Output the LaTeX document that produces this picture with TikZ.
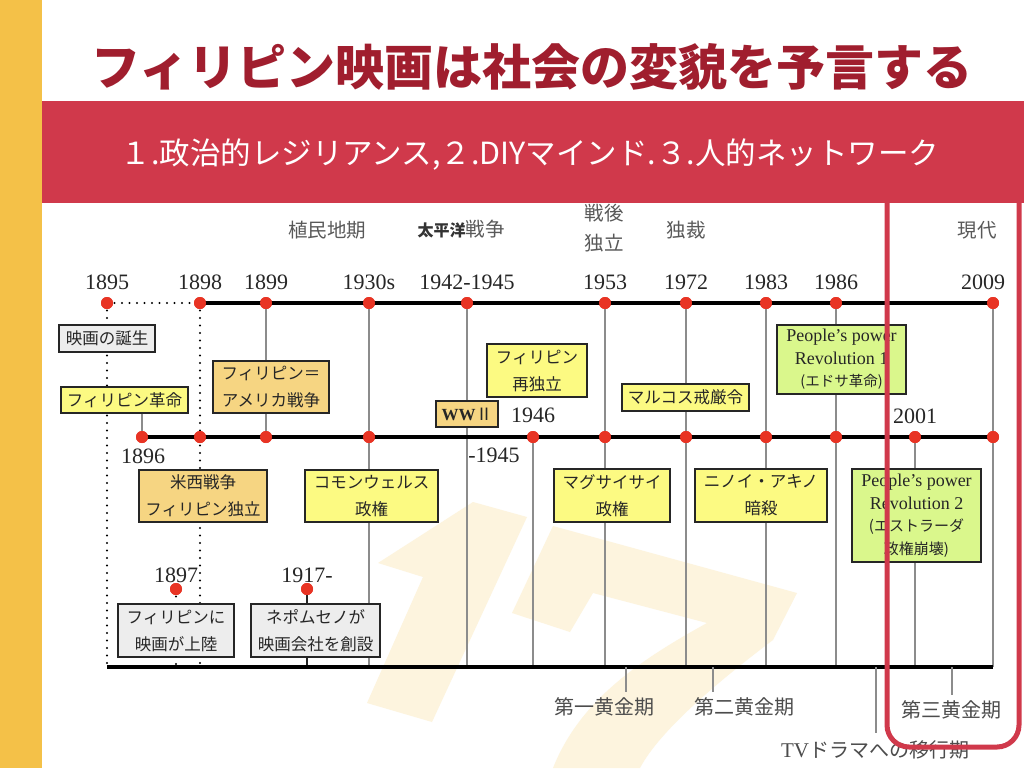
\documentclass[tikz,border=0pt]{standalone}
\usepackage{fontspec}
\setmainfont{Liberation Serif}
\newfontfamily\jp{Noto Sans CJK JP}
\definecolor{stripe}{RGB}{244,193,72}
\definecolor{bannerred}{RGB}{208,57,75}
\definecolor{titlered}{RGB}{160,30,46}
\definecolor{boxyellow}{RGB}{252,250,130}
\definecolor{boxorange}{RGB}{246,213,130}
\definecolor{boxgreen}{RGB}{218,247,140}
\definecolor{boxgray}{RGB}{237,237,237}
\definecolor{dotred}{RGB}{232,52,36}
\definecolor{cream}{RGB}{253,244,222}
\tikzset{
  yr/.style={inner sep=0pt, text=black!85, font=\fontsize{22}{22}\selectfont},
  per/.style={inner sep=0pt, text=black!65, align=center, font=\jp\fontsize{19.5}{30}\selectfont},
  bx/.style={draw=black!85, line width=1.3pt, inner sep=0pt, align=center, text=black!85,
    font=\jp\fontsize{16.5}{27}\selectfont},
  ybox/.style={bx, fill=boxyellow},
  obox/.style={bx, fill=boxorange},
  gbox/.style={bx, fill=boxgray},
  grbox/.style={bx, fill=boxgreen, font=\fontsize{18}{22.5}\selectfont},
  reddot/.style={circle, fill=dotred, inner sep=0pt, minimum size=12pt},
  vline/.style={draw=black!45, line width=1.2pt},
  tline/.style={draw=black, line width=3.5pt},
  dotline/.style={draw=black, line width=2.2pt, dash pattern=on 0pt off 7.5pt, line cap=round},
  tick/.style={draw=black!45, line width=1.2pt},
  glab/.style={inner sep=0pt, text=black!70, font=\jp\fontsize{20}{20}\selectfont},
}
\begin{document}
\begin{tikzpicture}[x=1pt,y=-1pt]
\useasboundingbox (0,0) rectangle (1024,768);
\fill[white] (0,0) rectangle (1024,768);
% watermark "17"
\fill[cream] (378,563) -- (473,502) -- (527,517) -- (432,722) -- (367,703) -- (423,577) -- cycle;
\fill[cream] (512,613) -- (553,526) -- (797,593) -- (773,640) .. controls (720,680) and (660,730) .. (640,768)
  -- (553,768) .. controls (580,700) and (640,660) .. (707,623) -- (593,593) -- (570,632) -- cycle;
% stripe
\fill[stripe] (0,0) rectangle (42,768);

% dots top row
\node[reddot] (t1895) at (107,303) {};
\node[reddot] (t1898) at (200,303) {};
\node[reddot] (t1899) at (266,303) {};
\node[reddot] (t1930) at (369,303) {};
\node[reddot] (t1942) at (467,303) {};
\node[reddot] (t1953) at (605,303) {};
\node[reddot] (t1972) at (686,303) {};
\node[reddot] (t1983) at (766,303) {};
\node[reddot] (t1986) at (836,303) {};
\node[reddot] (t2009) at (993,303) {};
% dots middle row
\node[reddot] (m1896) at (142,437) {};
\node[reddot] (m1898) at (200,437) {};
\node[reddot] (m1899) at (266,437) {};
\node[reddot] (m1930) at (369,437) {};
\node[reddot] (m1946) at (533,437) {};
\node[reddot] (m1953) at (605,437) {};
\node[reddot] (m1972) at (686,437) {};
\node[reddot] (m1983) at (766,437) {};
\node[reddot] (m1986) at (836,437) {};
\node[reddot] (m2001) at (915,437) {};
\node[reddot] (m2009) at (993,437) {};
\node[reddot] (d1897) at (176,589) {};
\node[reddot] (d1917) at (307,589) {};
% bottom coordinates
\coordinate (bL) at (107,667);
\coordinate (bR) at (993,667);
\foreach \x in {107,176,200,307,369,467,533,605,686,766,836,915,993}
  \coordinate (e\x) at (\x,667);

% vertical connectors
\draw[dotline] (t1895.center) -- (e107);
\draw[dotline] (t1898.center) -- (e200);
\draw[dotline] (d1897.center) -- (e176);
\draw[draw=black!85, line width=2pt] (d1917.center) -- (e307);
\draw[vline] (t1899.center) -- (m1899.center);
\draw[vline] (t1930.center) -- (e369);
\draw[vline] (t1942.center) -- (e467);
\draw[vline] (m1946.center) -- (e533);
\draw[vline] (t1953.center) -- (e605);
\draw[vline] (t1972.center) -- (e686);
\draw[vline] (t1983.center) -- (e766);
\draw[vline] (t1986.center) -- (e836);
\draw[vline] (m2001.center) -- (e915);
\draw[vline] (t2009.center) -- (e993);
% horizontal lines
\draw[dotline] (t1895.center) -- (t1898.center);
\draw[tline] (t1898.center) -- (t2009.center);
\draw[tline] (m1896.center) -- (m2009.center);
\draw[tline] (bL) -- (bR);

% boxes
\node[gbox, minimum width=96pt, minimum height=27pt] (bbirth) at (107,338.5) {映画の誕生};
\node[ybox, minimum width=127pt, minimum height=26pt] (brev) at (124.5,400) {フィリピン革命};
\draw[vline] (brev.south -| m1896) -- (m1896.center);
\node[obox, minimum width=116pt, minimum height=52pt] (bpaw) at (271,387) {フィリピン＝\\アメリカ戦争};
\node[obox, minimum width=128pt, minimum height=52pt] (bsp) at (203,496) {米西戦争\\フィリピン独立};
\node[ybox, minimum width=133pt, minimum height=52pt] (bcw) at (371.5,496) {コモンウェルス\\政権};
\node[gbox, minimum width=116pt, minimum height=53pt] (bland) at (176,630.5) {フィリピンに\\映画が上陸};
\node[gbox, minimum width=129pt, minimum height=53pt] (bnep) at (315.5,630.5) {ネポムセノが\\映画会社を創設};
\node[obox, minimum width=62pt, minimum height=26pt, font=\bfseries\fontsize{17}{17}\selectfont] (bww) at (467,414) {WW{\jp\mdseries Ⅱ}};
\node[ybox, minimum width=100pt, minimum height=53pt] (bre) at (537,370.5) {フィリピン\\再独立};
\node[ybox, minimum width=127pt, minimum height=27pt] (bml) at (685.5,397.5) {マルコス戒厳令};
\node[grbox, minimum width=129pt, minimum height=69pt] (bpp1) at (841.5,359.5)
  {People’s power\\Revolution 1\\{\jp\fontsize{14.5}{14.5}\selectfont (エドサ革命)}};
\node[ybox, minimum width=116pt, minimum height=53pt] (bmag) at (612,495.5) {マグサイサイ\\政権};
\node[ybox, minimum width=132pt, minimum height=53pt] (bnin) at (761,495.5) {ニノイ・アキノ\\暗殺};
\node[grbox, minimum width=129pt, minimum height=93pt] (bpp2) at (916.5,515.5)
  {People’s power\\Revolution 2\\{\jp\fontsize{15}{15}\selectfont (エストラーダ}\\{\jp\fontsize{15}{15}\selectfont 政権崩壊)}};

% redraw dots on top of lines
\foreach \n in {t1895,t1898,t1899,t1930,t1942,t1953,t1972,t1983,t1986,t2009,
  m1896,m1898,m1899,m1930,m1946,m1953,m1972,m1983,m1986,m2001,m2009,d1897,d1917}
  \fill[dotred] (\n.center) circle (6pt);

% year labels
\node[yr] (y1895) at (107,282) {1895};
\node[yr] (y1898) at (200,282) {1898};
\node[yr] (y1899) at (266,282) {1899};
\node[yr] (y1930) at (369,282) {1930s};
\node[yr] (y1942) at (467,282) {1942-1945};
\node[yr] (y1953) at (605,282) {1953};
\node[yr] (y1972) at (686,282) {1972};
\node[yr] (y1983) at (766,282) {1983};
\node[yr] (y1986) at (836,282) {1986};
\node[yr] (y2009) at (983,282) {2009};
\node[yr] (y1896) at (143,456) {1896};
\node[yr] (y1945) at (494,455) {-1945};
\node[yr] (y1946) at (533,415) {1946};
\node[yr] (y2001) at (915,416) {2001};
\node[yr] (y1897) at (176,575) {1897};
\node[yr] (y1917) at (307,575) {1917-};

% period labels
\node[per] (p1) at (327,230) {植民地期};
\node[per] (p2) at (461,229) {{\bfseries\fontsize{16}{16}\selectfont\color{black!80}太平洋}戦争};
\node[per] (p3) at (604,228) {戦後\\独立};
\node[per] (p4) at (686,230) {独裁};
\node[per] (p5) at (977,230) {現代};

% bottom ticks and labels
\coordinate (k1a) at (626,667); \coordinate (k1b) at (626,692);
\coordinate (k2a) at (713,667); \coordinate (k2b) at (713,692);
\coordinate (k3a) at (876,667); \coordinate (k3b) at (876,733);
\coordinate (k4a) at (952,667); \coordinate (k4b) at (952,695);
\draw[tick] (k1a) -- (k1b);
\draw[tick] (k2a) -- (k2b);
\draw[tick] (k3a) -- (k3b);
\draw[tick] (k4a) -- (k4b);
\node[glab] (g1) at (604,707) {第一黄金期};
\node[glab] (g2) at (744,707) {第二黄金期};
\node[glab] (g3) at (951,710) {第三黄金期};
\node[glab] (g4) at (875,750) {{\rmfamily\fontsize{21}{21}\selectfont TV}ドラマへの移行期};

% red highlight frame
\draw[bannerred, line width=5pt, rounded corners=22pt] (887,150) rectangle (1019,747);

% banner and title
\fill[bannerred] (42,101) rectangle (1024,203);
\node[inner sep=0pt, text=white, font=\jp\fontsize{30.5}{30.5}\selectfont] (sub) at (530,155)
  {１.政治的レジリアンス,２.DIYマインド.３.人的ネットワーク};
\node[inner sep=0pt, text=titlered, font=\jp\bfseries\fontsize{49}{49}\selectfont] (title) at (532,67)
  {フィリピン映画は社会の変貌を予言する};
\end{tikzpicture}
\end{document}
